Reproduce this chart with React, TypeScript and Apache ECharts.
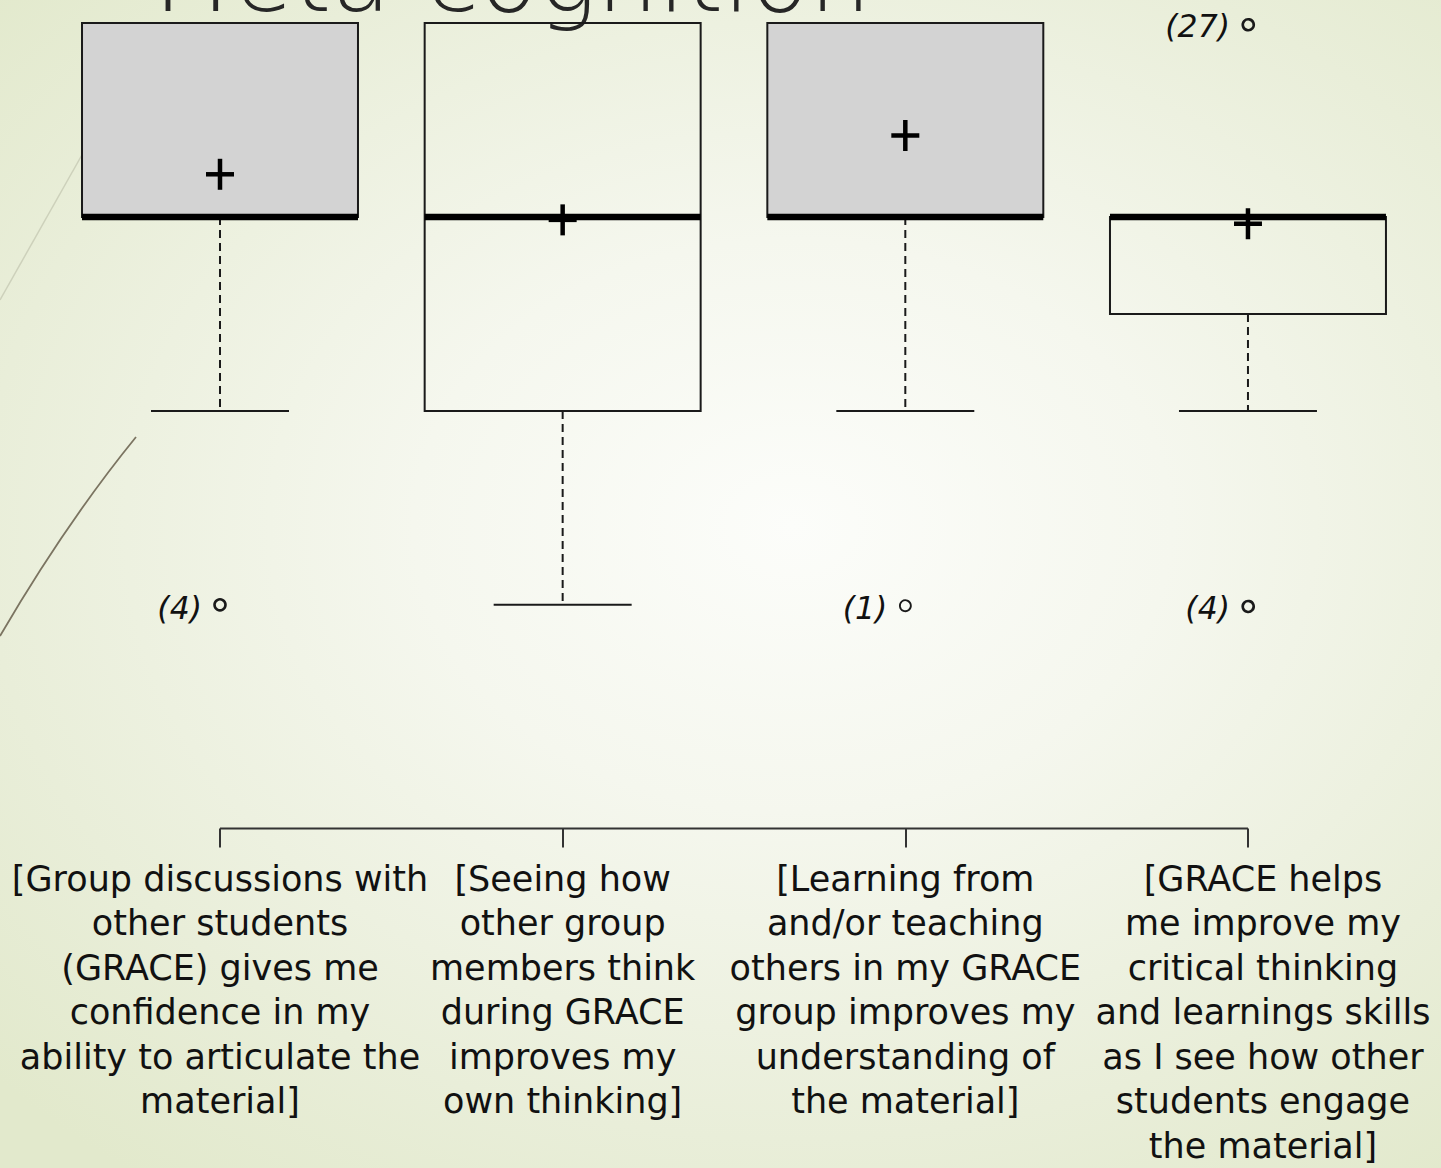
import React, { useEffect, useRef } from "react";
import * as echarts from "echarts";

// ---- data ----
const CATEGORIES = [
  "[Group discussions with\nother students\n(GRACE) gives me\nconfidence in my\nability to articulate the\nmaterial]",
  "[Seeing how\nother group\nmembers think\nduring GRACE\nimproves my\nown thinking]",
  "[Learning from\nand/or teaching\nothers in my GRACE\ngroup improves my\nunderstanding of\nthe material]",
  "[GRACE helps\nme improve my\ncritical thinking\nand learnings skills\nas I see how other\nstudents engage\nthe material]",
];
const WHISKER_LOW = [3, 2, 3, 3];
const Q1 = [4, 3, 4, 3.5];
const MEDIAN = [4, 4, 4, 4];
const Q3 = [5, 5, 5, 4];
const WHISKER_HIGH = [5, 5, 5, 4];
const MEAN = [4.22, 3.985, 4.42, 3.965];

const OUTLIER_CAT = [0, 2, 3, 3];
const OUTLIER_VALUE = [2, 2, 2, 5];
const OUTLIER_LABEL = ["(4)", "(1)", "(4)", "(27)"];

const TITLE = "Meta-cognition";
const Y_MIN = 0.847;
const Y_MAX = 5;

// ---- styles ----
const BOX_FILL = ["#d3d3d3", "none", "#d3d3d3", "none"];
const OUTLIER_TONE = ["#1a1a1a", "#8a8a8a", "#1a1a1a", "#1a1a1a"];
const LABEL_SHIFT = [0, 0, 0, 30];
const INK = "#1a1a1a";
const LABEL_FONT = "DejaVu Sans";

export default function App() {
  const ref = useRef<HTMLDivElement>(null);

  useEffect(() => {
    document.body.style.margin = "0";
    const chart = echarts.init(ref.current!, null, { renderer: "svg" });

    const boxData = CATEGORIES.map((_, i) => [
      i,
      WHISKER_LOW[i],
      Q1[i],
      MEDIAN[i],
      Q3[i],
      WHISKER_HIGH[i],
      MEAN[i],
    ]);
    const outlierData = OUTLIER_CAT.map((c, k) => [c, OUTLIER_VALUE[k], k]);
    const axisData = CATEGORIES.map((c, i) => ({
      value: c,
      textStyle: { padding: [0, 0, 0, LABEL_SHIFT[i]] },
    }));

    const option: any = {
      animation: false,
      backgroundColor: "transparent",
      grid: { left: 48.67, right: 21.7, top: 23, bottom: 338 },
      xAxis: {
        type: "category",
        data: axisData,
        boundaryGap: true,
        axisLine: { show: false },
        axisTick: {
          show: true,
          alignWithLabel: true,
          length: 19,
          lineStyle: { color: "#333", width: 2 },
        },
        axisLabel: {
          interval: 0,
          margin: 28,
          color: "#111",
          fontFamily: LABEL_FONT,
          fontSize: 35,
          lineHeight: 44.5,
          align: "center",
        },
        splitLine: { show: false },
      },
      yAxis: {
        type: "value",
        min: Y_MIN,
        max: Y_MAX,
        show: false,
      },
      graphic: [
        {
          type: "bezierCurve",
          z: 0,
          shape: { x1: 0, y1: 636, cpx1: 66, cpy1: 523, x2: 136, y2: 437 },
          style: { stroke: "#7b7461", lineWidth: 1.8, fill: "none" },
        },
        {
          type: "bezierCurve",
          z: 0,
          shape: { x1: 0, y1: 300, cpx1: 44, cpy1: 222, x2: 96, y2: 130 },
          style: { stroke: "#cdd1bb", lineWidth: 1.5, fill: "none" },
        },
        {
          type: "text",
          z: 0,
          x: 150,
          y: -23,
          style: {
            text: TITLE,
            font: "300 97px 'DejaVu Sans'",
            fill: "#262626",
            verticalAlign: "middle",
            align: "left",
          },
        },
      ],
      series: [
        {
          type: "custom",
          name: "axis",
          clip: false,
          data: [[0, CATEGORIES.length - 1]],
          renderItem: (params: any, api: any) => {
            const a = api.coord([api.value(0), Y_MIN]);
            const b = api.coord([api.value(1), Y_MIN]);
            return {
              type: "line",
              shape: { x1: a[0], y1: a[1], x2: b[0], y2: b[1] },
              style: { stroke: "#333", lineWidth: 2 },
            };
          },
        },
        {
          type: "custom",
          name: "boxes",
          clip: false,
          data: boxData,
          renderItem: (params: any, api: any) => {
            const i = api.value(0);
            const [x, yLow] = api.coord([i, api.value(1)]);
            const yQ1 = api.coord([i, api.value(2)])[1];
            const yMed = api.coord([i, api.value(3)])[1];
            const yQ3 = api.coord([i, api.value(4)])[1];
            const yHigh = api.coord([i, api.value(5)])[1];
            const yMean = api.coord([i, api.value(6)])[1];
            const band = api.size([1, 0])[0];
            const halfW = band * 0.4027;
            const halfCap = halfW / 2;
            const children: any[] = [];
            if (yLow > yQ1 + 0.5) {
              children.push({
                type: "line",
                shape: { x1: x, y1: yQ1, x2: x, y2: yLow },
                style: { stroke: INK, lineWidth: 2, lineDash: [8, 5] },
              });
              children.push({
                type: "line",
                shape: { x1: x - halfCap, y1: yLow, x2: x + halfCap, y2: yLow },
                style: { stroke: INK, lineWidth: 2 },
              });
            }
            if (yHigh < yQ3 - 0.5) {
              children.push({
                type: "line",
                shape: { x1: x, y1: yQ3, x2: x, y2: yHigh },
                style: { stroke: INK, lineWidth: 2, lineDash: [8, 5] },
              });
              children.push({
                type: "line",
                shape: { x1: x - halfCap, y1: yHigh, x2: x + halfCap, y2: yHigh },
                style: { stroke: INK, lineWidth: 2 },
              });
            }
            children.push({
              type: "rect",
              shape: { x: x - halfW, y: yQ3, width: halfW * 2, height: yQ1 - yQ3 },
              style: { fill: BOX_FILL[i], stroke: INK, lineWidth: 2 },
            });
            children.push({
              type: "line",
              shape: { x1: x - halfW, y1: yMed, x2: x + halfW, y2: yMed },
              style: { stroke: "#000", lineWidth: 6.5 },
            });
            children.push({
              type: "line",
              shape: { x1: x - 14, y1: yMean, x2: x + 14, y2: yMean },
              style: { stroke: "#000", lineWidth: 4.5 },
            });
            children.push({
              type: "line",
              shape: { x1: x, y1: yMean - 15.5, x2: x, y2: yMean + 15.5 },
              style: { stroke: "#000", lineWidth: 4.5 },
            });
            return { type: "group", children };
          },
        },
        {
          type: "custom",
          name: "outliers",
          clip: false,
          data: outlierData,
          renderItem: (params: any, api: any) => {
            const c = api.value(0);
            const k = api.value(2);
            const [x, y] = api.coord([c, api.value(1)]);
            const tone = OUTLIER_TONE[c];
            return {
              type: "group",
              children: [
                {
                  type: "circle",
                  shape: { cx: x, cy: y, r: 5.5 },
                  style: { fill: "none", stroke: tone, lineWidth: c === 2 ? 1.8 : 2.6 },
                },
                {
                  type: "text",
                  x: x - 18,
                  y: y + 3,
                  style: {
                    text: OUTLIER_LABEL[k],
                    font: "italic 31.5px 'DejaVu Sans'",
                    fill: "#111",
                    align: "right",
                    verticalAlign: "middle",
                  },
                },
              ],
            };
          },
        },
      ],
    };

    chart.setOption(option);
    return () => chart.dispose();
  }, []);

  return (
    <div
      style={{
        position: "absolute",
        left: 0,
        top: 0,
        width: 1441,
        height: 1168,
        overflow: "hidden",
        background:
          "radial-gradient(ellipse 75% 70% at 55% 45%, #fcfdfa 0%, #f5f7ee 35%, #e9eed9 75%, #e2e9cc 100%)",
      }}
    >
      <div ref={ref} style={{ width: 1441, height: 1168 }} />
    </div>
  );
}
